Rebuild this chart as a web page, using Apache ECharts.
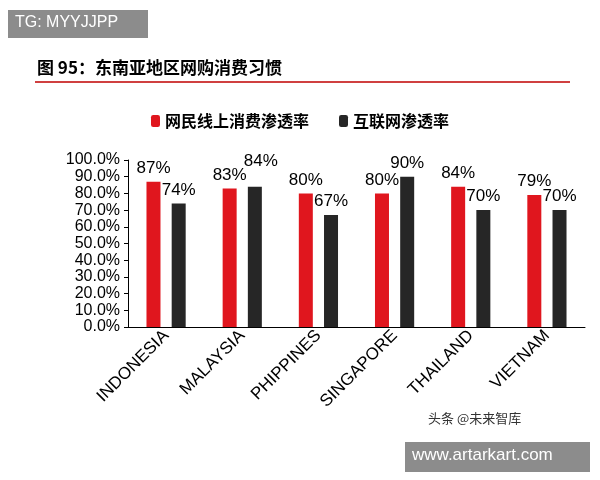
<!DOCTYPE html>
<html><head><meta charset="utf-8">
<script src="https://cdn.jsdelivr.net/npm/echarts@6/dist/echarts.min.js"></script>
<style>html,body{margin:0;background:#fff}#c{width:600px;height:480px}</style>
</head><body><div id="c"></div>
<script>
const categories = ['INDONESIA', 'MALAYSIA', 'PHIPPINES', 'SINGAPORE', 'THAILAND', 'VIETNAM'];
const onlineShopping = [87, 83, 80, 80, 84, 79];
const internet = [74, 84, 67, 90, 70, 70];
const seriesNames = ['网民线上消费渗透率', '互联网渗透率'];

const chart = echarts.init(document.getElementById('c'));
const font = '"Noto Sans CJK SC", "Liberation Sans", sans-serif';
// 马来西亚的互联网标签往右上挪一点，避免与红柱标签重叠
const internetData = internet.map((v, i) => i === 1 ? { value: v, label: { offset: [6, -12] } } : v);
chart.setOption({
    textStyle: { fontFamily: font },
    graphic: [
        { type: 'rect', shape: { x: 8, y: 10, width: 140, height: 28 }, style: { fill: '#8c8c8c' } },
        { type: 'text', left: 15, top: 15, style: { text: 'TG: MYYJJPP', fill: '#fff', font: '16px "Liberation Sans"' } },
        { type: 'text', left: 37, top: 59, style: { text: '图 95：东南亚地区网购消费习惯', fill: '#000', font: 'bold 17px ' + font } },
        { type: 'line', shape: { x1: 35, y1: 82, x2: 570, y2: 82 }, style: { stroke: '#c00000', lineWidth: 1.5 } },
        { type: 'text', left: 428, top: 412, style: { text: '头条 @未来智库', fill: '#333', font: '13px ' + font } },
        { type: 'rect', shape: { x: 405, y: 442, width: 185, height: 30 }, style: { fill: '#8c8c8c' } },
        { type: 'text', left: 412, top: 447, style: { text: 'www.artarkart.com', fill: '#fff', font: '17px "Liberation Sans"' } }
    ],
    legend: {
        top: 108, left: 'center',
        itemWidth: 9, itemHeight: 12, itemGap: 30,
        textStyle: { fontSize: 16, color: '#000', fontWeight: 'bold' },
        data: seriesNames
    },
    grid: { left: 128, right: 15, top: 160, bottom: 153 },
    xAxis: {
        type: 'category', data: categories,
        axisLine: { lineStyle: { color: '#000' } },
        axisTick: { show: false },
        axisLabel: { rotate: 45, color: '#000', fontSize: 17, interval: 0, margin: 6, fontFamily: '"Liberation Sans"' }
    },
    yAxis: {
        type: 'value', min: 0, max: 100, interval: 10,
        axisLine: { show: true, lineStyle: { color: '#000' } },
        axisTick: { show: true, length: 4, lineStyle: { color: '#000' } },
        splitLine: { show: false },
        axisLabel: { color: '#000', fontSize: 16, showMinLabel: true, showMaxLabel: true, hideOverlap: false, formatter: v => v.toFixed(1) + '%', fontFamily: '"Liberation Sans"' }
    },
    series: [
        {
            name: seriesNames[0], type: 'bar', data: onlineShopping,
            barWidth: 14, barGap: '80%',
            itemStyle: { color: '#e0161e' },
            label: { show: true, position: 'top', formatter: '{c}%', color: '#000', fontSize: 17, fontFamily: '"Liberation Sans"' }
        },
        {
            name: seriesNames[1], type: 'bar', data: internetData,
            barWidth: 14,
            itemStyle: { color: '#262626' },
            label: { show: true, position: 'top', formatter: '{c}%', color: '#000', fontSize: 17, fontFamily: '"Liberation Sans"' }
        }
    ]
});
</script></body></html>
